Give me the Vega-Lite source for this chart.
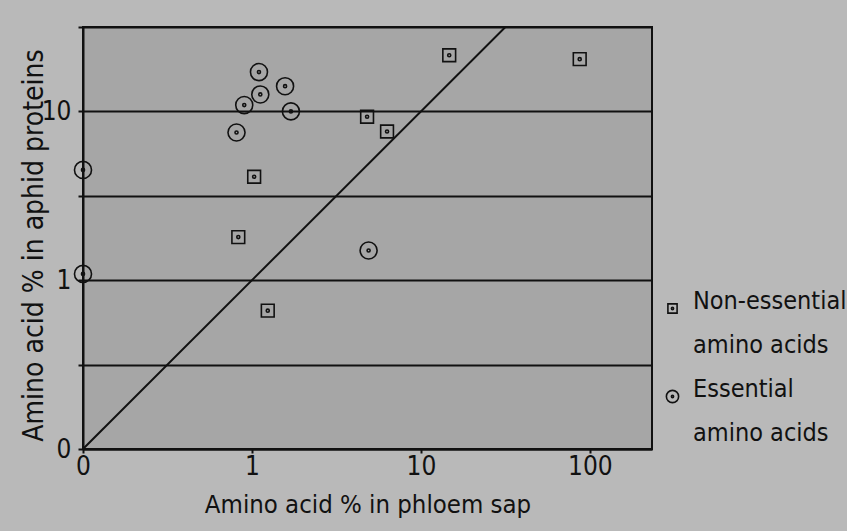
{
  "$schema": "https://vega.github.io/schema/vega-lite/v6.json",
  "width": 569,
  "height": 422,
  "autosize": "none",
  "padding": {"left": 83, "top": 27, "right": 195, "bottom": 82},
  "background": "#b9b9b9",
  "config": {
    "view": {"fill": "#a6a6a6", "stroke": "#111111", "strokeWidth": 2},
    "font": "DejaVu Sans Condensed",
    "style": {"guide-label": {"lineHeight": 44}},
    "axis": {
      "domainColor": "#111111",
      "domainWidth": 2,
      "labelColor": "#111111",
      "titleColor": "#111111",
      "labelFontSize": 26,
      "titleFontSize": 25.5,
      "titleFontWeight": "normal",
      "labelFont": "DejaVu Sans Condensed",
      "titleFont": "DejaVu Sans Condensed"
    },
    "legend": {
      "labelFont": "DejaVu Sans Condensed",
      "labelFontSize": 25,
      "labelColor": "#111111"
    }
  },
  "encoding": {
    "x": {
      "field": "phloem",
      "type": "quantitative",
      "scale": {"type": "log", "domain": [0.1, 233], "nice": false},
      "axis": {
        "title": "Amino acid % in phloem sap",
        "values": [0.1, 1, 10, 100],
        "labelExpr": "datum.value < 0.5 ? '0' : format(datum.value, 'd')",
        "grid": false,
        "ticks": true,
        "tickSize": 4,
        "tickWidth": 2,
        "tickColor": "#111111",
        "labelPadding": 0,
        "labelFlush": false,
        "titlePadding": 13
      }
    },
    "y": {
      "field": "aphid",
      "type": "quantitative",
      "scale": {"type": "log", "domain": [0.1, 31.62], "nice": false},
      "axis": {
        "title": "Amino acid % in aphid proteins",
        "titleFontSize": 28,
        "values": [0.1, 0.3162, 1, 3.162, 10, 31.62],
        "labelExpr": "datum.value < 0.2 ? '0' : (abs(datum.value - 1) < 0.01 ? '1' : (abs(datum.value - 10) < 0.1 ? '10' : ''))",
        "grid": true,
        "gridColor": "#111111",
        "gridWidth": 2,
        "gridOpacity": 1,
        "ticks": true,
        "tickSize": 5,
        "tickWidth": 2,
        "tickColor": "#111111",
        "labelPadding": 7,
        "labelFlush": false,
        "titleX": -35,
        "titleY": 218
      }
    }
  },
  "layer": [
    {
      "data": {"values": [{"phloem": 0.1, "aphid": 0.1}, {"phloem": 31.62, "aphid": 31.62}]},
      "mark": {"type": "line", "color": "#111111", "strokeWidth": 2, "clip": true}
    },
    {
      "data": {
        "values": [
          {"phloem": 0.1, "aphid": 4.5, "type": "Essential amino acids"},
          {"phloem": 0.1, "aphid": 1.09, "type": "Essential amino acids"},
          {"phloem": 1.1, "aphid": 17.1, "type": "Essential amino acids"},
          {"phloem": 1.12, "aphid": 12.6, "type": "Essential amino acids"},
          {"phloem": 0.9, "aphid": 10.9, "type": "Essential amino acids"},
          {"phloem": 1.57, "aphid": 14.1, "type": "Essential amino acids"},
          {"phloem": 1.7, "aphid": 10.0, "type": "Essential amino acids"},
          {"phloem": 0.81, "aphid": 7.5, "type": "Essential amino acids"},
          {"phloem": 4.9, "aphid": 1.5, "type": "Essential amino acids"},
          {"phloem": 4.8, "aphid": 9.3, "type": "Non-essential amino acids"},
          {"phloem": 6.3, "aphid": 7.6, "type": "Non-essential amino acids"},
          {"phloem": 1.03, "aphid": 4.1, "type": "Non-essential amino acids"},
          {"phloem": 0.83, "aphid": 1.8, "type": "Non-essential amino acids"},
          {"phloem": 1.24, "aphid": 0.66, "type": "Non-essential amino acids"},
          {"phloem": 14.7, "aphid": 21.5, "type": "Non-essential amino acids"},
          {"phloem": 87, "aphid": 20.4, "type": "Non-essential amino acids"}
        ]
      },
      "mark": {"type": "point", "filled": false, "color": "#111111", "strokeWidth": 1.6, "size": 290, "opacity": 1},
      "encoding": {
        "shape": {
          "field": "type",
          "type": "nominal",
          "scale": {
            "domain": ["Non-essential amino acids", "Essential amino acids"],
            "range": [
              "M-0.75,-0.75H0.75V0.75H-0.75Z M-0.18,0A0.18,0.18 0 1,0 0.18,0A0.18,0.18 0 1,0 -0.18,0Z",
              "M-1,0A1,1 0 1,0 1,0A1,1 0 1,0 -1,0Z M-0.18,0A0.18,0.18 0 1,0 0.18,0A0.18,0.18 0 1,0 -0.18,0Z"
            ]
          },
          "legend": {
            "title": null,
            "orient": "none",
            "legendX": 577,
            "legendY": 269,
            "symbolSize": 150,
            "symbolStrokeColor": "#111111",
            "symbolStrokeWidth": 1.6,
            "symbolFillColor": "transparent",
            "labelBaseline": "alphabetic",
            "labelOffset": 8,
            "labelLimit": 300,
            "labelExpr": "datum.label == 'Essential amino acids' ? ['Essential', 'amino acids'] : ['Non-essential', 'amino acids']",
            "rowPadding": 18,
            "encode": {"labels": {"enter": {"lineHeight": {"value": 44}}, "update": {"lineHeight": {"value": 44}}}}
          }
        }
      }
    }
  ]
}
